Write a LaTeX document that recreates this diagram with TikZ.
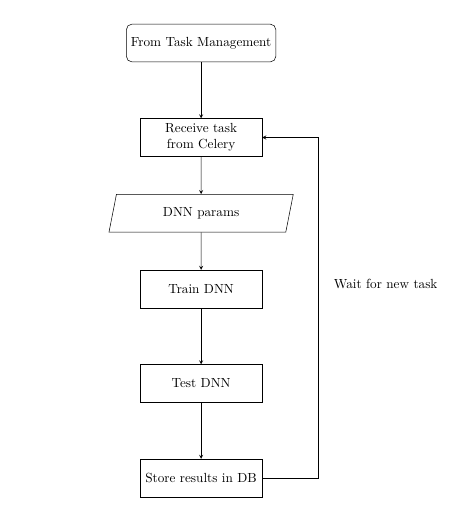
\documentclass[tikz,border=0pt]{standalone}
\usepackage{amsmath}
\usepackage{tikz}
\usetikzlibrary{positioning,shapes.geometric}

\tikzset{
    startstop/.style={rectangle, rounded corners, draw, minimum height=1cm, align=center},
    process/.style={rectangle, draw, text width=3cm, minimum height=1cm, align=center},
    io/.style={trapezium, trapezium left angle=70, trapezium right angle=110, trapezium stretches body, draw, minimum width=4.9cm, minimum height=1cm, align=center},
    arrow/.style={->, >=stealth}
}

\begin{document}
\begin{tikzpicture}[node distance=1.5cm]
        \useasboundingbox (-152.2pt, 32.55pt) rectangle (193.7pt, -369.3pt);
        \node[startstop] (start) at (0, 0) {From Task Management};
        \node[process, below=of start] (recv) {Receive task\\from Celery};
        \node[io, below=1cm of recv] (params) {DNN params};
        \node[process, below=1cm of params] (train) {Train DNN};
        \node[process, below=of train] (test) {Test DNN};
        \node[process, below=of test] (store) {Store results in DB};
        \coordinate[right=of store.east] (loop);
        \draw[arrow] (start) -- (recv);
        \draw[arrow] (recv) -- (params);
        \draw[arrow] (params) -- (train);
        \draw[arrow] (train) -- (test);
        \draw[arrow] (test) -- (store);
        \draw[arrow] (store.east) -- (loop) |- (recv.east);
        \node[right=8pt of loop |- train, yshift=4pt] (wait) {Wait for new task};
    \end{tikzpicture}
\end{document}
